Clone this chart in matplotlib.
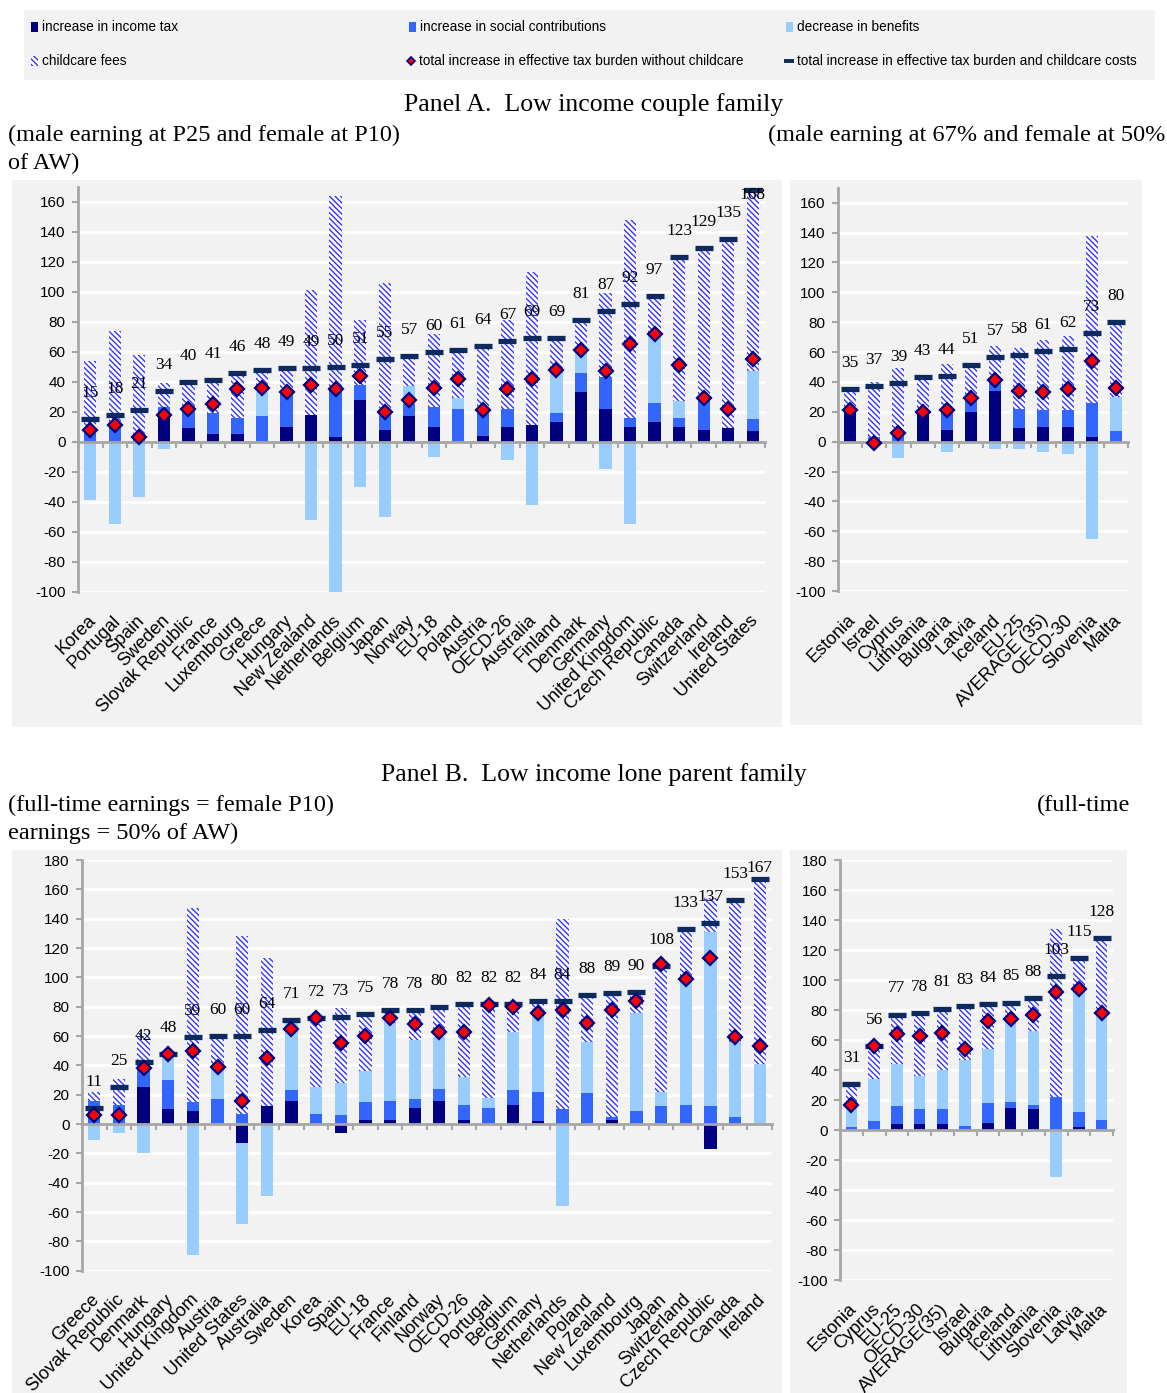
import matplotlib
matplotlib.use("Agg")
import matplotlib.pyplot as plt
import numpy as np
from matplotlib.patches import Rectangle

# ---------------- data ----------------
# Panel A, left chart
catsA = ["Korea", "Portugal", "Spain", "Sweden", "Slovak Republic", "France", "Luxembourg",
         "Greece", "Hungary", "New Zealand", "Netherlands", "Belgium", "Japan", "Norway",
         "EU-18", "Poland", "Austria", "OECD-26", "Australia", "Finland", "Denmark", "Germany",
         "United Kingdom", "Czech Republic", "Canada", "Switzerland", "Ireland", "United States"]
itA = [0, 0, -1, 18, 9, 5, 5, 0, 10, 18, 3, 28, 8, 17, 10, 0, 4, 10, 11, 13, 33, 22, 10, 13, 10, 8, 9, 7]
sscA = [6, 10, 6, 5, 12, 14, 11, 17, 22, 0, 32, 10, 11, 8, 13, 22, 15, 12, 0, 6, 13, 21, 6, 13, 6, 21, 0, 8]
benA = [-39, -55, -36, -5, 0, 0, 0, 16, 0, -52, -102, -30, -50, 12, -10, 7, 0, -12, -42, 27, 13, -18,
        -55, 46, 11, 0, 0, 32]
ccA = [48, 64, 52, 16, 19, 22, 31, 15, 17, 83, 129, 43, 87, 20, 49, 32, 44, 59, 102, 23, 22, 56, 132,
       25, 96, 100, 126, 121]
nocA = [8, 11, 3, 18, 22, 25, 35, 36, 33, 38, 35, 44, 20, 28, 36, 42, 21, 35, 42, 48, 61, 47, 65, 72,
        51, 29, 22, 55]
totA = [15, 18, 21, 34, 40, 41, 46, 48, 49, 49, 50, 51, 55, 57, 60, 61, 64, 67, 69, 69, 81, 87, 92, 97,
        123, 129, 135, 168]

# Panel A, right chart
catsAR = ["Estonia", "Israel", "Cyprus", "Lithuania", "Bulgaria", "Latvia", "Iceland", "EU-25",
          "AVERAGE (35)", "OECD-30", "Slovenia", "Malta"]
itAR = [20, 0, 0, 19, 8, 20, 34, 9, 10, 10, 3, 0]
sscAR = [2, 3, 5, 0, 12, 7, 7, 13, 11, 11, 23, 7]
benAR = [0, -2, -11, 0, -7, 0, -5, -5, -7, -8, -65, 23]
ccAR = [12, 37, 44, 23, 32, 24, 23, 41, 47, 50, 112, 50]
nocAR = [21, -1, 6, 20, 21, 29, 41, 34, 33, 35, 54, 36]
totAR = [35, 37, 39, 43, 44, 51, 57, 58, 61, 62, 73, 80]

# Panel B, left chart
catsB = ["Greece", "Slovak Republic", "Denmark", "Hungary", "United Kingdom", "Austria",
         "United States", "Australia", "Sweden", "Korea", "Spain", "EU-18", "France", "Finland",
         "Norway", "OECD-26", "Portugal", "Belgium", "Germany", "Netherlands", "Poland",
         "New Zealand", "Luxembourg", "Japan", "Switzerland", "Czech Republic", "Canada", "Ireland"]
itB = [0, 0, 25, 10, 9, 0, -13, 12, 16, 0, -6, 3, 3, 11, 16, 3, 0, 13, 2, 1, 0, 3, 0, 0, 0, -17, 0, 0]
sscB = [16, 13, 14, 20, 6, 17, 7, 0, 7, 7, 6, 12, 13, 6, 8, 10, 11, 10, 20, 9, 21, 2, 9, 12, 13, 12, 5, 0]
benB = [-11, -6, -20, 17, -89, 22, -55, -49, 47, 18, 22, 21, 53, 40, 35, 19, 7, 40, 57, -56, 35, 0,
        67, 10, 85, 119, 51, 41]
ccB = [6, 18, 23, 1, 132, 21, 121, 101, 1, 47, 51, 39, 9, 21, 21, 50, 64, 19, 5, 130, 32, 84, 14, 86,
       35, 23, 97, 126]
nocB = [6, 6, 38, 48, 50, 39, 16, 45, 65, 72, 55, 60, 72, 68, 63, 63, 81, 80, 76, 78, 69, 78, 84, 109,
        99, 113, 59, 53]
totB = [11, 25, 42, 48, 59, 60, 60, 64, 71, 72, 73, 75, 78, 78, 80, 82, 82, 82, 84, 84, 88, 89, 90,
        108, 133, 137, 153, 167]

# Panel B, right chart
catsBR = ["Estonia", "Cyprus", "EU-25", "OECD-30", "AVERAGE(35)", "Israel", "Bulgaria", "Iceland",
          "Lithuania", "Slovenia", "Latvia", "Malta"]
itBR = [0, 0, 4, 4, 4, 0, 5, 15, 14, 0, 2, 0]
sscBR = [2, 6, 12, 10, 10, 3, 13, 4, 3, 22, 10, 7]
benBR = [13, 28, 28, 22, 26, 44, 36, 55, 49, -31, 81, 70]
ccBR = [16, 22, 33, 42, 41, 36, 30, 11, 22, 112, 22, 51]
nocBR = [17, 56, 64, 63, 65, 54, 73, 74, 77, 92, 94, 78]
totBR = [31, 56, 77, 78, 81, 83, 84, 85, 88, 103, 115, 128]

legend_labels = ["increase in income tax", "increase in social contributions", "decrease in benefits",
                 "childcare fees", "total increase in effective tax burden without childcare",
                 "total increase in effective tax burden and childcare costs"]

# ---------------- style ----------------
plt.rcParams["font.family"] = ["Liberation Sans", "DejaVu Sans"]
plt.rcParams["axes.unicode_minus"] = False
plt.rcParams["hatch.linewidth"] = 1.0

C_IT = "#000080"
C_SSC = "#3366ff"
C_BEN = "#99ccff"
C_CC = "#3333ff"
C_DIA_E = "#000080"
C_DASH = "#0c2a5e"
AXIS = "#a6a6a6"
BG = "#f2f2f2"
HATCH = "\\\\\\\\\\\\"
SERIF = ["Liberation Serif", "DejaVu Serif"]

W, H = 1167, 1393
fig = plt.figure(figsize=(W / 100, H / 100), dpi=100)
fig.patch.set_facecolor("white")

over = fig.add_axes([0, 0, 1, 1], zorder=0)
over.set_xlim(0, W)
over.set_ylim(H, 0)
over.axis("off")

for (x0, y0, x1, y1) in [(24, 10, 1155, 80), (12, 180, 782, 727), (790, 180, 1142, 725),
                         (12, 850, 782, 1393), (790, 850, 1127, 1393)]:
    over.add_patch(Rectangle((x0, y0), x1 - x0, y1 - y0, fc=BG, ec="none"))

# legend
over.add_patch(Rectangle((31, 22), 7, 10, fc=C_IT, ec="none"))
over.add_patch(Rectangle((409, 22), 7, 10, fc=C_SSC, ec="none"))
over.add_patch(Rectangle((786, 22), 7, 10, fc=C_BEN, ec="none"))
over.add_patch(Rectangle((31, 56), 7, 10, fc="white", ec=C_CC, hatch=HATCH, lw=0))
over.plot([411], [61], ls="none", marker="D", ms=4.5, mfc="red", mec=C_DIA_E, mew=1.2)
over.plot([789], [61], ls="none", marker="_", ms=7, mew=2.8, color=C_DASH)
for (tx, ty), lab in zip([(42, 27), (420, 27), (797, 27), (42, 61), (419, 61), (797, 61)], legend_labels):
    over.text(tx, ty, lab, ha="left", va="center", fontsize=9.8)

# titles
over.text(594, 105, "Panel A.  Low income couple family", ha="center", va="center", fontsize=18.5, family=SERIF)
over.text(8, 135, "(male earning at P25 and female at P10)", ha="left", va="center", fontsize=17.5, family=SERIF)
over.text(768, 135, "(male earning at 67% and female at 50%", ha="left", va="center", fontsize=17.5, family=SERIF)
over.text(8, 163, "of AW)", ha="left", va="center", fontsize=17.5, family=SERIF)
over.text(594, 775, "Panel B.  Low income lone parent family", ha="center", va="center", fontsize=18.5, family=SERIF)
over.text(8, 805, "(full-time earnings = female P10)", ha="left", va="center", fontsize=17.5, family=SERIF)
over.text(1037, 805, "(full-time", ha="left", va="center", fontsize=17.5, family=SERIF)
over.text(8, 833, "earnings = 50% of AW)", ha="left", va="center", fontsize=17.5, family=SERIF)


def px_axes(x0, y0, x1, y1):
    return fig.add_axes([x0 / W, 1 - y1 / H, (x1 - x0) / W, (y1 - y0) / H], zorder=1)


def draw_panel(rect, cats, it, ssc, ben, cc, noc, tot, ymin, ymax, ytop_tick):
    ax = px_axes(*rect)
    ax.set_facecolor(BG)
    n = len(cats)
    x = np.arange(n)
    pos = np.zeros(n)
    neg = np.zeros(n)
    series = [(it, dict(color=C_IT)), (ssc, dict(color=C_SSC)), (ben, dict(color=C_BEN)),
              (cc, dict(facecolor="white", edgecolor=C_CC, hatch=HATCH, linewidth=0))]
    for vals, kw in series:
        v = np.asarray(vals, dtype=float)
        bottom = np.where(v >= 0, pos, neg)
        ax.bar(x, v, 0.5, bottom=bottom, zorder=2, **kw)
        pos += np.clip(v, 0, None)
        neg += np.clip(v, None, 0)
    ax.plot(x, tot, ls="none", marker="_", ms=13, mew=3.8, color=C_DASH, zorder=3)
    ax.plot(x, noc, ls="none", marker="D", ms=6.8, mfc="red", mec=C_DIA_E, mew=1.6, zorder=4)

    ax.set_xlim(-0.5, n - 0.5)
    ax.set_ylim(ymin, ymax)
    scale = (rect[3] - rect[1]) / (ymax - ymin)
    for i, t in enumerate(tot):
        ly = min(t + 26 / scale, ymax - 8 / scale)
        ax.text(i, ly, str(t), ha="center", va="center", fontsize=12.5, family=SERIF, zorder=5)
    for i, c in enumerate(cats):
        ax.annotate(c, xy=(i, 0), xycoords=("data", "axes fraction"), xytext=(2, -19),
                    textcoords="offset points", rotation=45, rotation_mode="anchor",
                    ha="right", va="center", fontsize=13)

    ax.set_yticks(np.arange(-100, ytop_tick + 1, 20))
    ax.set_xticks([])
    ax.set_xticks(np.arange(n + 1) - 0.5, minor=True)
    ax.tick_params(axis="x", which="minor", direction="out", length=4, width=1.5, color=AXIS)
    ax.tick_params(axis="y", direction="out", length=4, width=1.5, color=AXIS, labelsize=11, pad=5)
    for s in ["top", "right"]:
        ax.spines[s].set_visible(False)
    ax.spines["left"].set_color(AXIS)
    ax.spines["left"].set_linewidth(2)
    ax.spines["bottom"].set_position(("data", 0))
    ax.spines["bottom"].set_color(AXIS)
    ax.spines["bottom"].set_linewidth(2)
    ax.set_axisbelow(True)
    ax.yaxis.grid(True, color="white", lw=2)
    return ax


draw_panel((78, 186.7, 765, 591.7), catsA, itA, sscA, benA, ccA, nocA, totA, -100, 170, 160)
draw_panel((838, 187.7, 1128, 591.1), catsAR, itAR, sscAR, benAR, ccAR, nocAR, totAR, -100, 170, 160)
draw_panel((82, 860, 772, 1270.7), catsB, itB, sscB, benB, ccB, nocB, totB, -100, 180, 180)
draw_panel((840, 860, 1113, 1280), catsBR, itBR, sscBR, benBR, ccBR, nocBR, totBR, -100, 180, 180)

fig.savefig("out.png", dpi=100, facecolor="white")
